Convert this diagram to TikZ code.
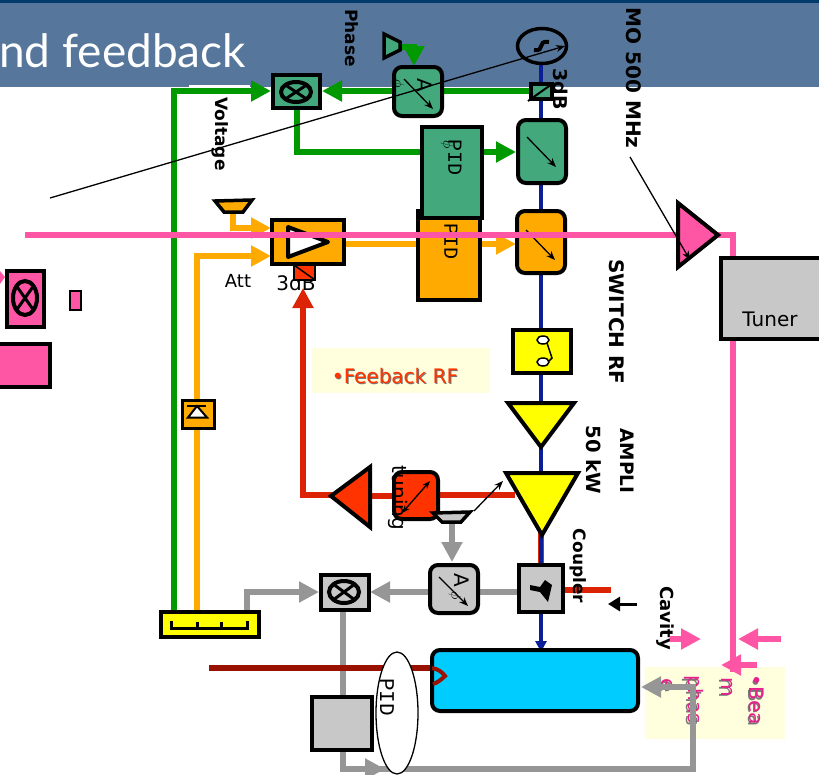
\documentclass[tikz,border=0pt]{standalone}
\usepackage{fontspec}
\setmainfont{DejaVu Sans}
\newfontfamily\titlef{Lato}
\newfontfamily\pidf{Liberation Mono}
\usetikzlibrary{arrows.meta,shapes.geometric,calc}
\definecolor{band}{HTML}{56779B}
\definecolor{bandtop}{HTML}{003B6B}
\definecolor{gfill}{HTML}{43A87C}
\definecolor{gline}{HTML}{009900}
\definecolor{ofill}{HTML}{FFAA00}
\definecolor{pk}{HTML}{FF55A5}
\definecolor{pktext}{HTML}{E6208C}
\definecolor{rline}{HTML}{DC2305}
\definecolor{rfill}{HTML}{FF3300}
\definecolor{grey}{HTML}{C8C8C8}
\definecolor{gline2}{HTML}{969696}
\definecolor{bl}{HTML}{0A1E96}
\definecolor{cav}{HTML}{00CCFF}
\definecolor{dred}{HTML}{991100}
\definecolor{beige}{HTML}{FFFFDD}
\definecolor{yel}{HTML}{FFFF00}
\definecolor{shadowc}{HTML}{777777}
\tikzset{
 x=1pt,y=-1pt,
 lab/.style={rotate=-90,text=black,inner sep=0pt},
 flow/.style={line width=6pt,-{Triangle[length=20pt,width=20pt]}},
 plain/.style={line width=6pt},
 thin arrow/.style={line width=1.3pt,-{Stealth[length=9pt,width=7pt]}},
 rbox/.style={draw=black,line width=4pt,rounded corners=8pt},
 sbox/.style={draw=black,line width=4.5pt},
 tri/.style={draw=black,line width=4pt,line join=miter},
 blab/.style={lab,font=\bfseries\fontsize{#1}{#1}\selectfont},
 plab/.style={lab,font=\pidf\fontsize{#1}{#1}\selectfont},
 rlab/.style={lab,font=\fontsize{#1}{#1}\selectfont},
}
\newcommand{\crossell}[4]{%
 \draw[line width=4pt] (#1,#2) ellipse ({#3} and {#4});
 \draw[line width=3pt] ($(#1,#2)+(-.7*#3,-.7*#4)$) -- ($(#1,#2)+(.7*#3,.7*#4)$);
 \draw[line width=3pt] ($(#1,#2)+(-.7*#3,.7*#4)$) -- ($(#1,#2)+(.7*#3,-.7*#4)$);}
\begin{document}
\begin{tikzpicture}
\useasboundingbox (0,0) rectangle (819,774);
% header
\fill[band] (0,0) rectangle (819,87);
\fill[bandtop] (0,0) rectangle (819,3);
\fill[white] (189,85) rectangle (250,87);
\node[anchor=west,inner sep=0pt,text=white,font=\titlef\fontsize{46}{46}\selectfont] (title) at (-1,51) {nd feedback};

% beige notes
\fill[beige] (312,348) rectangle (490,393);
\fill[beige] (645,667) rectangle (785,739);
\foreach \tx/\ta/\tb in {{•Bea}/757/700,{m}/727/687,{phas}/694/700,{e}/667/685}{
 \node[rlab=20,text=shadowc] at (\ta-1.5,\tb+1.5) {\tx};
 \node[rlab=20,text=pktext] at (\ta,\tb) {\tx};
}

% blue main line
\coordinate (bt) at (541,46);
\coordinate (bb) at (541,652);
\draw[rline,line width=6pt] (541,530) -- (541,565);
\draw[bl,line width=4pt,-{Triangle[length=11pt,width=11pt]}] (bt) -- (bb);

% orange lines
\draw[ofill,plain] (344,244) -- (425,244);
\draw[ofill,flow] (475,244) -- (516,244);
\draw[ofill,flow] (233,210) -- (233,228) -- (271,228);
\draw[ofill,flow] (197,612) -- (197,256) -- (271,256);

% green lines
\draw[gline,flow] (174,612) -- (174,91) -- (271,91);
\draw[gline,flow] (396,91) -- (322,91);
\draw[gline,plain] (443,91) -- (530,91);
\draw[gline,plain] (297,108) -- (297,152) -- (425,152);
\draw[gline,flow] (480,152) -- (516,152);
\draw[gline,flow] (398,47) -- (414,47) -- (414,66);

% grey lines
\draw[gline2,flow] (247,612) -- (247,592) -- (319,592);
\draw[gline2,flow] (520,592) -- (370,592);
\draw[gline2,flow] (452,520) -- (452,562);
\draw[gline2,plain] (343,610) -- (343,698);
\draw[gline2,flow] (343,750) -- (343,769) -- (385,769);
\draw[gline2,flow] (375,769) -- (693,769) -- (693,687) -- (641,687);

% red lines
\draw[rline,flow] (335,495) -- (303,495) -- (303,288);
\draw[rline,plain] (370,496) -- (395,496);
\draw[rline,plain] (438,495) -- (515,495);
\draw[rline,plain] (563,590) -- (611,590);

% pink lines
\draw[pk,plain] (25,235) -- (733,235) -- (733,672);
\draw[pk,flow] (670,639) -- (701,639);
\draw[pk,flow] (781,639) -- (738,639);
\draw[pk,flow] (757,665) -- (721,665);
\draw[black,line width=3pt,-{Triangle[length=12pt,width=14pt]}] (637,604) -- (608,604);

% top devices
\node[draw,line width=3.5pt,ellipse,minimum width=49pt,minimum height=35pt,inner sep=0pt,fill=band] (mo) at (542,46) {};
\draw[line width=4pt] (534,50) .. controls (546,52) and (536,40) .. (549,42);
\draw[sbox,fill=gfill] (531,84) rectangle (552,99);
\draw[line width=2pt] (528,101) -- (552,84);
\node[blab=19] (db3) at (561,89) {3dB};
\draw[rbox,fill=gfill] (394,67) rectangle (442,116);
\draw[rbox,fill=gfill] (518,120) rectangle (566,183);
\draw[thin arrow] (527,137) -- (556,167);
\draw[thin arrow] (404,79) -- (433,109);
\node[rlab=20] (aa) at (425,85) {A};
\node[rlab=15] (phi) at (398,84) {$\phi$};
\draw[black,line width=3.5pt,fill=gfill] (384,34) -- (400,42) -- (400,50) -- (384,58) -- cycle;
\draw[sbox,fill=gfill] (273,75) rectangle (320,108);
\crossell{296}{92}{15}{10}
\draw[sbox,fill=ofill] (418,211) rectangle (480,300);
\draw[sbox,fill=gfill] (422,127) rectangle (482,218);
\node[plab=20] (pid1) at (455,157) {PID};
\node[plab=20] (pid2) at (451,241) {PID};
\node[rlab=14] (phi2) at (447,145) {$\phi$};

% orange row
\draw[rbox,fill=ofill] (517,211) rectangle (565,273);
\draw[thin arrow] (526,230) -- (555,260);
\draw[sbox,fill=ofill] (272,220) rectangle (344,264);
\draw[black,line width=4pt,fill=white,line join=round] (288,227) -- (328,242) -- (288,257) -- cycle;
\draw[black,line width=3.5pt,fill=ofill] (215,201) -- (252,200) -- (243,212) -- (224,212) -- cycle;
\node[inner sep=0pt,font=\fontsize{20}{20}\selectfont] (db3b) at (296,283) {3dB};
\draw[black,line width=2pt,fill=rfill] (294,265) rectangle (315,280);
\draw[line width=1.5pt] (294,265) -- (315,280);
\node[inner sep=0pt,font=\fontsize{18}{18}\selectfont] (att) at (238,281) {Att};

% pink line again over the orange box and triangle
\draw[pk,plain] (25,235) -- (680,235);
\draw[tri,fill=pk] (678,203) -- (718,235) -- (678,267) -- cycle;
\draw[thin arrow] (630,157) -- (690,260);
\draw[sbox,fill=grey] (721,258) rectangle (830,339);
\node[inner sep=0pt,font=\fontsize{20}{20}\selectfont] (tuner) at (770,319) {Tuner};

% long thin arrow
\draw[thin arrow] (50,198) -- (565,46);

% switch and amps
\draw[sbox,fill=yel] (513,330) rectangle (571,373);
\draw[line width=1.5pt,fill=white] (543,340) ellipse (6 and 4);
\draw[line width=1.5pt,fill=white] (543,362) ellipse (6 and 4);
\draw[line width=1.5pt] (547,343) -- (552,358) -- (549,361);
\draw[tri,fill=yel] (508,403) -- (574,403) -- (541,447) -- cycle;
\draw[tri,fill=yel] (506,473) -- (578,473) -- (542,535) -- cycle;

% feedback
\draw[tri,fill=rfill] (331,496) -- (370,467) -- (370,527) -- cycle;
\draw[rbox,fill=rfill] (394,472) rectangle (438,519);
\node[rlab=20] (tun) at (398,498) {tuning};
\draw[line width=1.3pt,{Stealth[length=8pt,width=6pt]}-{Stealth[length=8pt,width=6pt]}] (402,513) -- (430,481);
\draw[black,line width=3.5pt,fill=grey] (433,513) -- (470,512) -- (461,522) -- (442,522) -- cycle;
\draw[thin arrow] (474,511) -- (503,481);

% lower row
\draw[sbox,fill=grey] (519,565) rectangle (563,612);
\fill (530,585) -- (540,587) -- (545,580) -- (552,585) -- (548,602) -- (540,592) -- (530,590) -- cycle;
\draw[rbox,fill=grey] (430,565) rectangle (478,613);
\draw[thin arrow] (439,577) -- (468,606);
\node[rlab=20] (ab) at (462,580) {A};
\node[rlab=15] (phi3) at (455,596) {$\phi$};
\draw[sbox,fill=grey] (321,575) rectangle (369,610);
\crossell{344}{592}{15}{11}
\draw[sbox,fill=yel] (161,612) rectangle (259,637);
\draw[line width=3pt] (171,621) -- (171,628) -- (247,628) -- (247,621) (197,622) -- (197,628) -- (221,628) -- (221,622);

% cavity
\draw[dred,line width=5.5pt] (209,668) -- (432,668);
\draw[rbox,fill=cav] (432,650) rectangle (638,711);
\draw[dred,line width=4pt] (432,668) .. controls (438,669) and (442,672) .. (445,676) .. controls (442,679) and (437,683) .. (433,684);
\draw[sbox,fill=grey] (312,697) rectangle (372,750);
\node[draw=black,line width=1.3pt,fill=white,ellipse,minimum width=42pt,minimum height=122pt,inner sep=0pt] (pidell) at (397,713) {};
\node[plab=21] (pid3) at (387,697) {PID};

% left cut-off devices
\draw[sbox,fill=pk] (7,271) rectangle (44,327);
\crossell{25}{298}{12}{17}
\draw[line width=1.5pt,fill=pk] (70,291) rectangle (81,310);
\draw[sbox,fill=pk] (-8,344) rectangle (50,387);
\fill[pk] (0,271) -- (5,277) -- (0,284) -- cycle;

% attenuator
\draw[sbox,line width=3pt,fill=ofill] (182,400) rectangle (214,428);
\draw[line width=2pt,fill=white] (188,417.5) -- (197,406) -- (207,417.5) -- cycle;
\draw[line width=2pt] (187,406) -- (206,406);

% labels
\node[blab=17] (volt) at (220,134) {Voltage};
\node[blab=17] (phase) at (352,38) {Phase};
\node[blab=20] (mol) at (634,78) {MO 500 MHz};
\node[blab=20] (sw) at (617,322) {SWITCH RF};
\node[blab=18.5] (am) at (627,461) {AMPLI};
\node[blab=19.5] (kw) at (594,460) {50 kW};
\node[blab=17] (cp) at (578,566) {Coupler};
\node[blab=18] (cy) at (665,618) {Cavity};

% feedback note text
\node[inner sep=0pt,text=shadowc,font=\fontsize{20}{20}\selectfont] at (396,377) {•Feeback RF};
\node[inner sep=0pt,text=rfill,font=\fontsize{20}{20}\selectfont] (fb) at (395,376) {•Feeback RF};
\end{tikzpicture}
\end{document}
